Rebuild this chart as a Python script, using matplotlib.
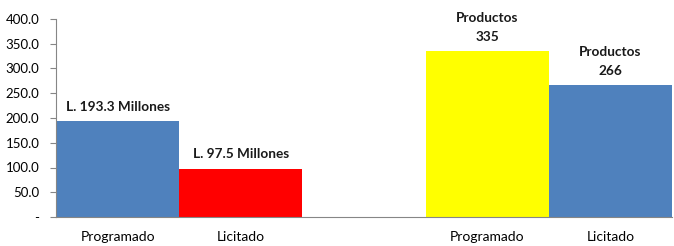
import matplotlib
matplotlib.use("Agg")
import matplotlib.pyplot as plt

# data
categories = ["Programado", "Licitado", "", "Programado", "Licitado"]
values = [193.3, 97.5, None, 335, 266]
bar_labels = ["L. 193.3 Millones", "L. 97.5 Millones", "", "Productos\n335", "Productos\n266"]
colors = ["#4F81BD", "#FF0000", None, "#FFFF00", "#4F81BD"]
yticks = [0, 50, 100, 150, 200, 250, 300, 350, 400]

plt.rcParams["font.family"] = ["Lato", "DejaVu Sans"]

fig = plt.figure(figsize=(6.74, 2.46), dpi=100)
ax = fig.add_axes([56 / 674, 1 - 217 / 246, 616 / 674, 198 / 246])

for i, (v, c, lab) in enumerate(zip(values, colors, bar_labels)):
  if v is None:
    continue
  ax.bar(i, v, width=1.0, color=c, edgecolor="none")
  ax.annotate(lab, (i, v), xytext=(0, 6), textcoords="offset points",
              ha="center", va="bottom", fontsize=9.8, fontweight="bold",
              color="#1a1a1a", linespacing=1.65, annotation_clip=False)

ax.set_xlim(-0.5, len(categories) - 0.5)
ax.set_ylim(0, 400)
ax.set_xticks(range(len(categories)))
ax.set_xticklabels(categories, fontsize=10)
ax.tick_params(axis="x", length=0, pad=10)
ax.set_yticks(yticks)
ax.set_yticklabels(["-" if t == 0 else f"{t:.1f}" for t in yticks], fontsize=9.5)
ax.tick_params(axis="y", length=4, color="#868686", pad=8)

for side in ["top", "right"]:
  ax.spines[side].set_visible(False)
for side in ["left", "bottom"]:
  ax.spines[side].set_color("#868686")
  ax.spines[side].set_linewidth(0.8)

fig.savefig("out.png", dpi=100)
